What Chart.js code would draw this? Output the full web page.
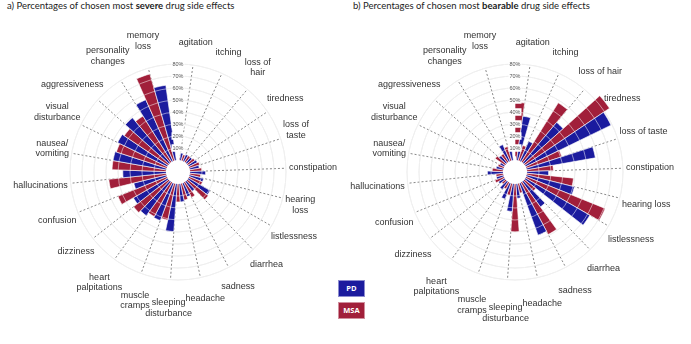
<!DOCTYPE html>
<html>
<head>
<meta charset="utf-8">
<script src="https://cdn.jsdelivr.net/npm/chart.js@4.4.0/dist/chart.umd.min.js"></script>
<style>
  html, body { margin: 0; padding: 0; background: #fff; }
  body { width: 691px; height: 344px; position: relative; overflow: hidden; font-family: Lato, "Open Sans", sans-serif; }
  .title { position: absolute; top: 0; font-size: 9.5px; line-height: 11px; color: #222; white-space: nowrap; }
  .chart { position: absolute; top: 0; height: 344px; }
  .key { position: absolute; left: 338px; width: 27px; height: 17px; color: #fff; font: bold 7.5px "Open Sans", sans-serif; line-height: 15px; text-align: center; box-sizing: border-box; border: 1px solid rgba(255,255,255,0.5); }
</style>
</head>
<body>
<div class="title" style="left:7px">a) Percentages of chosen most <b>severe</b> drug side effects</div>
<div class="title" style="left:353px">b) Percentages of chosen most <b>bearable</b> drug side effects</div>
<div class="chart" style="left:0;width:345px"><canvas id="severe"></canvas></div>
<div class="chart" style="left:345px;width:346px"><canvas id="bearable"></canvas></div>
<div id="legend"></div>
<script>
// categories, clockwise from the top
const categories = ['agitation', 'itching', 'loss of hair', 'tiredness', 'loss of taste', 'constipation',
  'hearing loss', 'listlessness', 'diarrhea', 'sadness', 'headache', 'sleeping disturbance',
  'muscle cramps', 'heart palpitations', 'dizziness', 'confusion', 'hallucinations',
  'nausea/vomiting', 'visual disturbance', 'aggressiveness', 'personality changes', 'memory loss'];

// how the names are broken in each panel
const labelsSevere = ['agitation', 'itching', 'loss of\nhair', 'tiredness', 'loss of\ntaste', 'constipation',
  'hearing\nloss', 'listlessness', 'diarrhea', 'sadness', 'headache', 'sleeping\ndisturbance',
  'muscle\ncramps', 'heart\npalpitations', 'dizziness', 'confusion', 'hallucinations',
  'nausea/\nvomiting', 'visual\ndisturbance', 'aggressiveness', 'personality\nchanges', 'memory\nloss'];
const labelsBearable = ['agitation', 'itching', 'loss of hair', 'tiredness', 'loss of taste', 'constipation',
  'hearing loss', 'listlessness', 'diarrhea', 'sadness', 'headache', 'sleeping\ndisturbance',
  'muscle\ncramps', 'heart\npalpitations', 'dizziness', 'confusion', 'hallucinations',
  'nausea/\nvomiting', 'visual\ndisturbance', 'aggressiveness', 'personality\nchanges', 'memory\nloss'];

const seriesNames = ['PD', 'MSA'];
const seriesColors = ['#1b1b9e', '#a11f3a'];

// % of patients
const severePD  = [6, 6, 6, 8, 8, 13, 12, 21, 10, 12, 15, 40, 33, 35, 33, 28, 36, 45, 46, 49, 56, 63];
const severeMSA = [2, 5, 6, 7, 9, 10, 9, 12, 22, 14, 14, 15, 31, 32, 37, 44, 48, 45, 44, 44, 45, 75];
const bearablePD  = [37, 18, 44, 79, 58, 18, 41, 62, 26, 46, 12, 23, 14, 8, 6, 6, 13, 6, 4, 8, 15, 9];
const bearableMSA = [48, 13, 58, 85, 31, 22, 39, 71, 12, 49, 8, 40, 10, 6, 4, 8, 6, 9, 5, 10, 8, 12];

const rTicks = [10, 20, 30, 40, 50, 60, 70, 80];

// MSA then PD inside each category, plus one empty slot where the % ticks sit
function slots(msa, pd) {
  const out = [];
  msa.forEach((v, i) => out.push(v, pd[i]));
  out.push(null);
  return out;
}
function slotColors() {
  const out = [];
  categories.forEach(() => out.push(seriesColors[1], seriesColors[0]));
  out.push('transparent');
  return out;
}
function slotLabels() {
  const out = [];
  categories.forEach(c => out.push(c + ' (MSA)', c + ' (PD)'));
  out.push('');
  return out;
}

// light rings over the bars and the white hole in the middle
const overlay = {
  id: 'overlay',
  afterDatasetsDraw(chart) {
    const r = chart.scales.r;
    const ctx = chart.ctx;
    ctx.save();
    ctx.strokeStyle = 'rgba(255,255,255,0.5)';
    ctx.lineWidth = 1;
    rTicks.forEach(t => {
      ctx.beginPath();
      ctx.arc(r.xCenter, r.yCenter, r.getDistanceFromCenterForValue(t), 0, Math.PI * 2);
      ctx.stroke();
    });
    ctx.fillStyle = '#fff';
    ctx.beginPath();
    ctx.arc(r.xCenter, r.yCenter, r.getDistanceFromCenterForValue(0), 0, Math.PI * 2);
    ctx.fill();
    ctx.restore();
  }
};

// category names at the end of each dashed line
const outerLabels = {
  id: 'outerLabels',
  afterDraw(chart, args, opts) {
    const r = chart.scales.r;
    const ctx = chart.ctx;
    const lh = 10.5;
    ctx.save();
    ctx.font = '9px "Liberation Sans", Arial, sans-serif';
    ctx.fillStyle = '#333';
    ctx.textAlign = 'center';
    ctx.textBaseline = 'middle';
    opts.names.forEach((name, k) => {
      const lines = name.split('\n');
      const p = r.getPointPosition(2 * k + 1, r.drawingArea + 3);
      const ux = Math.cos(p.angle), uy = Math.sin(p.angle);
      const w = Math.max(...lines.map(l => ctx.measureText(l).width));
      const h = lines.length * lh;
      let gap = 15;
      if (uy > 0) gap = lines.length > 1 ? opts.below : opts.below - 2;
      const cx = p.x + ux * w / 2;
      const cy = p.y + uy * (h / 2 + gap);
      lines.forEach((l, i) => ctx.fillText(l, cx, cy - h / 2 + lh * (i + 0.5)));
    });
    ctx.restore();
  }
};

function makeChart(id, msa, pd, names, below, pad) {
  return new Chart(document.getElementById(id), {
    type: 'polarArea',
    data: {
      labels: slotLabels(),
      datasets: [{
        data: slots(msa, pd),
        backgroundColor: slotColors(),
        borderColor: 'rgba(255,255,255,0.85)',
        borderWidth: 0.75
      }]
    },
    options: {
      responsive: true,
      maintainAspectRatio: false,
      animation: false,
      layout: { padding: pad },
      plugins: {
        legend: { display: false },
        tooltip: { enabled: false },
        outerLabels: { names: names, below: below }
      },
      scales: {
        r: {
          min: -10,
          max: 80,
          startAngle: 0,
          ticks: {
            stepSize: 10,
            z: 1,
            font: { size: 5.5, family: '"Liberation Sans", Arial, sans-serif' },
            color: '#555',
            backdropColor: '#fff',
            backdropPadding: 1,
            callback: v => v > 0 ? v + '%' : ''
          },
          grid: {
            circular: true,
            color: c => c.tick.value > 0 ? '#e0e0e0' : 'transparent',
            lineWidth: 1
          },
          angleLines: {
            display: true,
            color: c => c.index % 2 === 1 ? '#6a6a6a' : 'transparent',
            lineWidth: 0.8,
            borderDash: [2, 2]
          },
          pointLabels: { display: false }
        }
      }
    },
    plugins: [overlay, outerLabels]
  });
}

makeChart('severe', severeMSA, severePD, labelsSevere, 15, { left: 66, right: 54, top: 60, bottom: 59 });
makeChart('bearable', bearableMSA, bearablePD, labelsBearable, 20, { left: 58, right: 63, top: 60, bottom: 59 });

// legend boxes between the panels
const legend = document.getElementById('legend');
seriesNames.forEach((n, i) => {
  const d = document.createElement('div');
  d.className = 'key';
  d.style.top = (280 + i * 22) + 'px';
  d.style.background = seriesColors[i];
  d.textContent = n;
  legend.appendChild(d);
});
</script>
</body>
</html>
